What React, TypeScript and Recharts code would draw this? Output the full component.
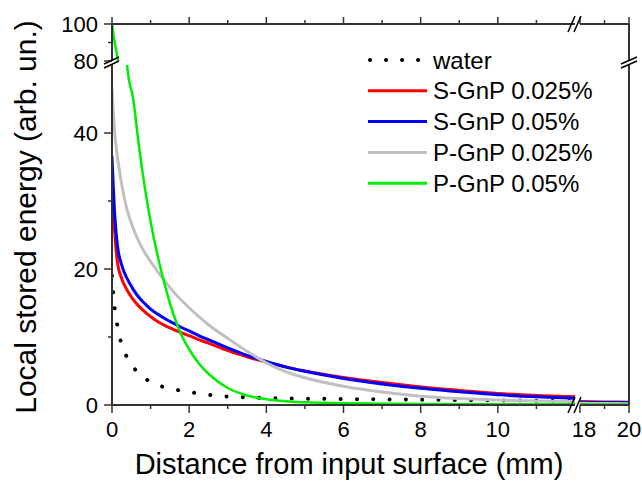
import React from 'react';
import { LineChart, Line, XAxis, YAxis, Legend } from 'recharts';

const FONT = '"Liberation Sans", Arial, sans-serif';
const AXIS = '#333';

// distance from input surface (mm), left part of the broken x axis
const distance = [0, 0.07, 0.14, 0.25, 0.4, 0.55, 0.7, 0.85, 1, 1.2, 1.4, 1.6, 1.8, 2, 2.25, 2.5, 3, 3.5, 4, 4.5, 5, 6, 7, 8, 9, 10, 11, 12];
const water = [19, 14.2, 11.6, 8.9, 6.9, 5.6, 4.6, 3.9, 3.4, 2.9, 2.55, 2.3, 2.1, 1.9, 1.7, 1.5, 1.25, 1.12, 1.02, 0.97, 0.93, 0.88, 0.83, 0.78, 0.73, 0.68, 0.64, 0.6];
const sGnp025 = [33, 25.5, 21, 18.6, 16.8, 15.5, 14.5, 13.7, 13.0, 12.2, 11.6, 11.1, 10.6, 10.2, 9.6, 9.1, 8.0, 7.1, 6.3, 5.6, 5.0, 4.05, 3.3, 2.65, 2.15, 1.7, 1.4, 1.2];
const sGnp05 = [36.5, 28, 23.5, 20.6, 18.5, 17.0, 15.8, 14.9, 14.1, 13.3, 12.6, 12.0, 11.4, 10.9, 10.2, 9.6, 8.4, 7.3, 6.4, 5.6, 4.95, 3.9, 3.1, 2.45, 1.95, 1.5, 1.2, 1.0];
const pGnp025 = [46.5, 40, 36.5, 32.5, 28.5, 26, 24, 22.4, 21.1, 19.5, 18, 16.6, 15.4, 14.3, 13, 11.8, 9.8, 7.9, 6.2, 4.9, 4.0, 2.75, 1.9, 1.3, 0.95, 0.72, 0.6, 0.5];
const pGnp05 = [100, 90, 82, 66, 49.5, 45, 38, 32, 27, 21.5, 17, 13.2, 10.3, 8.2, 6.1, 4.6, 2.5, 1.4, 0.85, 0.55, 0.4, 0.25, 0.2, 0.15, 0.12, 0.1, 0.1, 0.1];

// right part of the broken x axis
const distanceTail = [18, 19, 20];
const waterTail = [0.25, 0.22, 0.2];
const sGnp025Tail = [0.5, 0.45, 0.4];
const sGnp05Tail = [0.4, 0.37, 0.35];
const pGnp025Tail = [0.25, 0.22, 0.2];
const pGnp05Tail = [0.1, 0.08, 0.07];

const xTicks = [0, 1, 2, 3, 4, 5, 6, 7, 8, 9, 10, 11];
const xLabels = [0, 2, 4, 6, 8, 10];
const xTailTicks = [18, 19, 20];
const xTailLabels = [18, 20];
const yTicks = [0, 10, 20, 30, 40];
const yLabels = [0, 20, 40];
const yTopTicks = [80, 90, 100];
const yTopLabels = [80, 100];

const series = [
  { key: 'water', name: 'water', color: '#000', width: 4, dotted: true },
  { key: 'sGnp025', name: 'S-GnP 0.025%', color: '#ff0000', width: 3, dotted: false },
  { key: 'sGnp05', name: 'S-GnP 0.05%', color: '#0000ff', width: 3, dotted: false },
  { key: 'pGnp025', name: 'P-GnP 0.025%', color: '#c0c0c0', width: 3, dotted: false },
  { key: 'pGnp05', name: 'P-GnP 0.05%', color: '#00ee00', width: 2.5, dotted: false },
];

const mainData = distance.map((d, i) => ({
  d, water: water[i], sGnp025: sGnp025[i], sGnp05: sGnp05[i], pGnp025: pGnp025[i], pGnp05: pGnp05[i],
}));
const tailData = distanceTail.map((d, i) => ({
  d, water: waterTail[i], sGnp025: sGnp025Tail[i], sGnp05: sGnp05Tail[i], pGnp025: pGnp025Tail[i], pGnp05: pGnp05Tail[i],
}));

// plot edges in page pixels
const LEFT = 112;
const SPLIT_L = 575;
const SPLIT_R = 580;
const RIGHT = 629;
const TOP = 24;
const UPPER_BOTTOM = 61;
const LOWER_TOP = 65;
const BOTTOM = 405;
const W = 642;
const H = 482;

const tickText = { fontSize: 22, fontFamily: FONT, fill: '#000' };

const bottomTick = (labels: number[], shift = 0) => (p: any) => {
  const major = labels.includes(p.payload.value);
  return (
    <g>
      <line x1={p.x} x2={p.x} y1={p.y} y2={p.y + (major ? 8 : 4)} stroke={AXIS} strokeWidth={1.5} />
      {major && (
        <text x={p.x + (p.payload.value === labels[0] ? shift : 0)} y={p.y + 32} textAnchor="middle" {...tickText}>
          {p.payload.value}
        </text>
      )}
    </g>
  );
};

const topTick = (labels: number[]) => (p: any) => {
  const major = labels.includes(p.payload.value);
  return <line x1={p.x} x2={p.x} y1={p.y} y2={p.y - (major ? 7 : 4)} stroke={AXIS} strokeWidth={1.5} />;
};

const leftTick = (labels: number[]) => (p: any) => {
  const major = labels.includes(p.payload.value);
  return (
    <g>
      <line x1={p.x - (major ? 8 : 4)} x2={p.x} y1={p.y} y2={p.y} stroke={AXIS} strokeWidth={1.5} />
      {major && <text x={p.x - 14} y={p.y + 8} textAnchor="end" {...tickText}>{p.payload.value}</text>}
    </g>
  );
};

const renderLines = () =>
  series.map((s) => (
    <Line
      key={s.key}
      dataKey={s.key}
      name={s.name}
      type="monotone"
      stroke={s.color}
      strokeWidth={s.width}
      strokeDasharray={s.dotted ? '0.01 16.3' : undefined}
      strokeLinecap="round"
      dot={false}
      activeDot={false}
      isAnimationActive={false}
    />
  ));

const LegendBox = () => (
  <svg width={260} height={160} style={{ display: 'block' }}>
    {series.map((s, i) => {
      const y = 16 + i * 30.8;
      return (
        <g key={s.key}>
          <line
            x1={s.dotted ? 2 : 0}
            x2={59}
            y1={y}
            y2={y}
            stroke={s.color}
            strokeWidth={s.dotted ? 4 : 3}
            strokeDasharray={s.dotted ? '0.01 16' : undefined}
            strokeLinecap={s.dotted ? 'round' : 'butt'}
          />
          <text x={65} y={y + 8.5} fontSize={24} fontFamily={FONT} fill="#000">{s.name}</text>
        </g>
      );
    })}
  </svg>
);

const layer: React.CSSProperties = { position: 'absolute', left: 0, top: 0 };
const axisLine = { stroke: AXIS, strokeWidth: 2 };

export default function App() {
  const yw = 60;
  const xh = 40;
  const th = 20;
  const rw = 10;
  return (
    <div style={{ position: 'absolute', left: 0, top: 0, width: W, height: H, background: '#fff', overflow: 'hidden' }}>
      {/* lower left */}
      <div style={layer}>
        <LineChart width={W} height={H} data={mainData}
          margin={{ top: LOWER_TOP, right: W - SPLIT_L, bottom: H - BOTTOM - xh, left: LEFT - yw }}>
          <XAxis dataKey="d" type="number" domain={[0, 12]} ticks={xTicks} interval={0} allowDataOverflow
            height={xh} tickSize={0} tickMargin={0} tickLine={false} axisLine={axisLine} tick={bottomTick(xLabels)} />
          <YAxis type="number" domain={[0, 50]} ticks={yTicks} interval={0} allowDataOverflow
            width={yw} tickSize={0} tickMargin={0} tickLine={false} axisLine={axisLine} tick={leftTick(yLabels)} />
          {renderLines()}
          <Legend layout="vertical" align="center" verticalAlign="middle"
            wrapperStyle={{ left: 368, top: 44, width: 260, height: 160 }} content={() => <LegendBox />} />
        </LineChart>
      </div>
      {/* upper left */}
      <div style={layer}>
        <LineChart width={W} height={H} data={mainData}
          margin={{ top: TOP - th, right: W - SPLIT_L, bottom: H - UPPER_BOTTOM, left: LEFT - yw }}>
          <XAxis dataKey="d" type="number" orientation="top" domain={[0, 12]} ticks={xTicks} interval={0} allowDataOverflow
            height={th} tickSize={0} tickMargin={0} tickLine={false} axisLine={axisLine} tick={topTick(xLabels)} />
          <YAxis type="number" domain={[80, 100]} ticks={yTopTicks} interval={0} allowDataOverflow
            width={yw} tickSize={0} tickMargin={0} tickLine={false} axisLine={axisLine} tick={leftTick(yTopLabels)} />
          {renderLines()}
        </LineChart>
      </div>
      {/* lower right */}
      <div style={layer}>
        <LineChart width={W} height={H} data={tailData}
          margin={{ top: LOWER_TOP, right: W - RIGHT - rw, bottom: H - BOTTOM - xh, left: SPLIT_R }}>
          <XAxis dataKey="d" type="number" domain={[18, 20]} ticks={xTailTicks} interval={0} allowDataOverflow
            height={xh} tickSize={0} tickMargin={0} tickLine={false} axisLine={axisLine} tick={bottomTick(xTailLabels, 4)} />
          <YAxis type="number" orientation="right" domain={[0, 50]} allowDataOverflow
            width={rw} tick={false} tickLine={false} axisLine={axisLine} />
          {renderLines()}
        </LineChart>
      </div>
      {/* upper right */}
      <div style={layer}>
        <LineChart width={W} height={H} data={tailData}
          margin={{ top: TOP - th, right: W - RIGHT - rw, bottom: H - UPPER_BOTTOM, left: SPLIT_R }}>
          <XAxis dataKey="d" type="number" orientation="top" domain={[18, 20]} ticks={xTailTicks} interval={0} allowDataOverflow
            height={th} tickSize={0} tickMargin={0} tickLine={false} axisLine={axisLine} tick={topTick(xTailLabels)} />
          <YAxis type="number" orientation="right" domain={[80, 100]} allowDataOverflow
            width={rw} tick={false} tickLine={false} axisLine={axisLine} />
          {renderLines()}
        </LineChart>
      </div>
      {/* axis breaks and titles */}
      <svg width={W} height={H} style={{ ...layer, pointerEvents: 'none' }}>
        <g stroke="#000" strokeWidth={1.5}>
          <line x1={SPLIT_L - 7} y1={BOTTOM + 8} x2={SPLIT_L} y2={BOTTOM - 8} />
          <line x1={SPLIT_L - 1} y1={BOTTOM + 8} x2={SPLIT_R + 1} y2={BOTTOM - 8} />
          <line x1={SPLIT_L - 7} y1={TOP + 8} x2={SPLIT_L} y2={TOP - 8} />
          <line x1={SPLIT_L - 1} y1={TOP + 8} x2={SPLIT_R + 1} y2={TOP - 8} />
          <line x1={LEFT - 8} y1={UPPER_BOTTOM + 3} x2={LEFT + 7} y2={UPPER_BOTTOM - 4} />
          <line x1={LEFT - 8} y1={LOWER_TOP + 3} x2={LEFT + 7} y2={LOWER_TOP - 4} />
          <line x1={RIGHT - 8} y1={UPPER_BOTTOM + 3} x2={RIGHT + 8} y2={UPPER_BOTTOM - 4} />
          <line x1={RIGHT - 8} y1={LOWER_TOP + 3} x2={RIGHT + 8} y2={LOWER_TOP - 4} />
        </g>
        <text x={349} y={474} textAnchor="middle" fontSize={29} fontFamily={FONT} fill="#000">
          Distance from input surface (mm)
        </text>
        <text x={36} y={217} transform="rotate(-90 36 217)" textAnchor="middle" fontSize={30} fontFamily={FONT} fill="#000">
          Local stored energy (arb. un.)
        </text>
      </svg>
    </div>
  );
}
